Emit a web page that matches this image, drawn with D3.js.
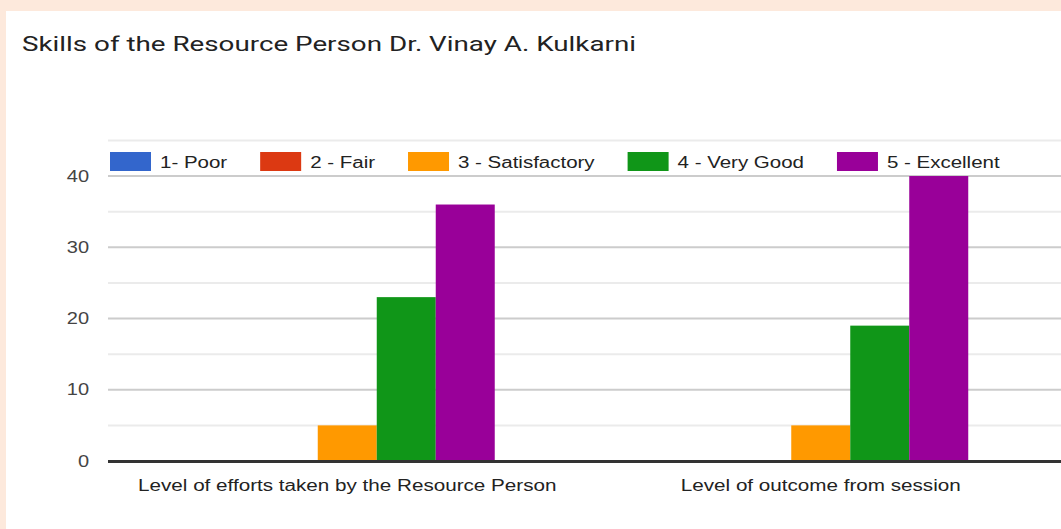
<!DOCTYPE html>
<html>
<head>
<meta charset="utf-8">
<script src="https://cdn.jsdelivr.net/npm/d3@7"></script>
<style>
  html, body { margin: 0; padding: 0; background: #fde9dc; }
  svg { display: block; }
</style>
</head>
<body>
<svg id="chart" width="1061" height="529"></svg>
<script>
// ---- data ----
const title = "Skills of the Resource Person Dr. Vinay A. Kulkarni";
const categories = ["Level of efforts taken by the Resource Person", "Level of outcome from session"];
const seriesNames = ["1- Poor", "2 - Fair", "3 - Satisfactory", "4 - Very Good", "5 - Excellent"];
const poor = [0, 0];
const fair = [0, 0];
const satisfactory = [5, 5];
const veryGood = [23, 19];
const excellent = [36, 40];
const tickValues = [0, 10, 20, 30, 40];
const colors = ["#3366cc", "#dc3912", "#ff9900", "#109618", "#990099"];

const seriesValues = [poor, fair, satisfactory, veryGood, excellent];

// ---- layout ----
const W = 1061, H = 529;
const svg = d3.select("#chart");
const font = "'Liberation Sans', Arial, sans-serif";

// white panel
svg.append("rect").attr("x", 6).attr("y", 11).attr("width", W - 6).attr("height", H - 11).attr("fill", "#ffffff");

const plotLeft = 108, plotRight = 1061;
const y = d3.scaleLinear().domain([0, 45]).range([461, 140.4]);
const x0 = d3.scaleBand().domain(categories).range([110.5, 1057.5]).paddingInner(0.377).paddingOuter(0.1885);
const x1 = d3.scaleBand().domain(seriesNames).range([0, x0.bandwidth()]).padding(0);

// gridlines
const gridVals = d3.range(5, 46, 5);
svg.append("g").selectAll("line").data(gridVals).join("line")
  .attr("x1", plotLeft).attr("x2", plotRight)
  .attr("y1", d => y(d)).attr("y2", d => y(d))
  .attr("stroke", d => d % 10 === 0 ? "#cccccc" : "#ebebeb")
  .attr("stroke-width", 2);

// y axis labels (via d3 axis)
const yAxis = svg.append("g").attr("transform", `translate(${plotLeft - 12},0)`)
  .call(d3.axisLeft(y).tickValues(tickValues).tickSize(0).tickPadding(7).tickFormat(d3.format("d")));
yAxis.select(".domain").remove();
yAxis.selectAll("text")
  .attr("font-family", font).attr("font-size", 16).attr("fill", "#444");
yAxis.selectAll("text").each(function() {
  const t = d3.select(this);
  const w = this.getComputedTextLength();
  t.attr("textLength", w * 1.25).attr("lengthAdjust", "spacingAndGlyphs");
});

// bars
const rows = categories.map((c, i) => ({ cat: c, vals: seriesNames.map((s, j) => ({ s, v: seriesValues[j][i], c: colors[j] })) }));
const groups = svg.append("g").selectAll("g").data(rows).join("g")
  .attr("transform", d => `translate(${x0(d.cat)},0)`);
groups.selectAll("rect").data(d => d.vals.filter(e => e.v > 0)).join("rect")
  .attr("x", d => x1(d.s))
  .attr("width", x1.bandwidth())
  .attr("y", d => y(d.v))
  .attr("height", d => y(0) - y(d.v))
  .attr("fill", d => d.c);

// baseline
svg.append("line").attr("x1", plotLeft).attr("x2", plotRight)
  .attr("y1", y(0) + 0.5).attr("y2", y(0) + 0.5)
  .attr("stroke", "#333333").attr("stroke-width", 3);

// x axis labels
const xAxis = svg.append("g").attr("transform", `translate(0,${y(0)})`)
  .call(d3.axisBottom(x0).tickSize(0).tickPadding(19));
xAxis.select(".domain").remove();
xAxis.selectAll("text").attr("font-family", font).attr("font-size", 16).attr("fill", "#222");
xAxis.selectAll("text").each(function() {
  const w = this.getComputedTextLength();
  d3.select(this).attr("textLength", w * 1.29).attr("lengthAdjust", "spacingAndGlyphs");
});

// legend
const legend = svg.append("g");
let lx = 110;
seriesNames.forEach((name, i) => {
  legend.append("rect").attr("x", lx).attr("y", 152).attr("width", 41).attr("height", 19).attr("fill", colors[i]);
  const t = legend.append("text").attr("x", lx + 50).attr("y", 168)
    .attr("font-family", font).attr("font-size", 16).attr("fill", "#222").text(name);
  const w = t.node().getComputedTextLength() * 1.28;
  t.attr("textLength", w).attr("lengthAdjust", "spacingAndGlyphs");
  lx = lx + 50 + w + 33;
});

// title
const tt = svg.append("text").attr("x", 22).attr("y", 51)
  .attr("font-family", "Roboto, 'Open Sans', sans-serif").attr("font-size", 21)
  .attr("fill", "#222").text(title);
tt.attr("textLength", 614).attr("lengthAdjust", "spacingAndGlyphs");
</script>
</body>
</html>
